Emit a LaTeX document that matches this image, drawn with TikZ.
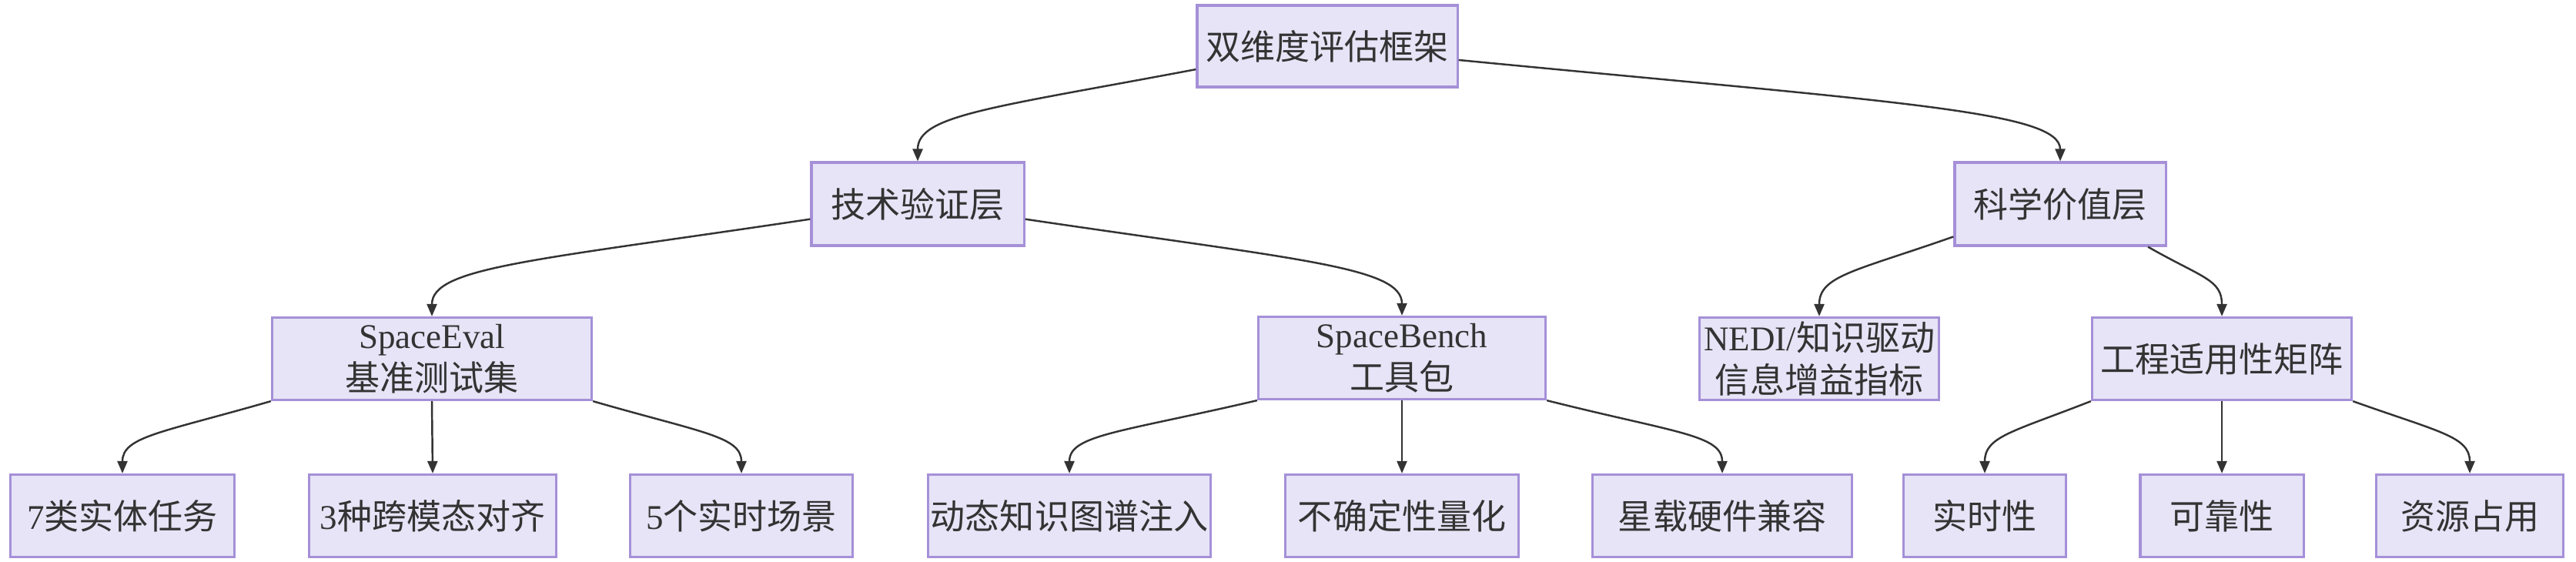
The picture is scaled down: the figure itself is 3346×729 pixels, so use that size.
\documentclass[tikz,border=0pt]{standalone}
\usepackage{fontspec}
\setmainfont{Liberation Serif}
\newfontfamily\zhfont{Noto Sans CJK SC}
\newcommand{\zh}[1]{{\zhfont #1}}
\usetikzlibrary{arrows.meta}
\definecolor{boxfill}{HTML}{E6E4F6}
\definecolor{boxline}{HTML}{A590D8}
\definecolor{edgeline}{HTML}{333333}
\begin{document}
\begin{tikzpicture}[x=0.01cm,y=-0.01cm,
    box/.style={draw=boxline, fill=boxfill, line width=0.9pt,
      inner sep=0pt, align=center, minimum height=1.07cm,
      text=edgeline, font=\fontsize{12.8}{15.6}\selectfont},
    edge/.style={draw=edgeline, line width=0.7pt,
      -{Triangle[length=0.16cm,width=0.13cm]}}]
  \useasboundingbox (0,0) rectangle (3346,729);
  % levels
  \node[box,minimum width=3.38cm,minimum height=1.06cm] (root) at (1724,60) {\zh{双维度评估框架}};
  \node[box,minimum width=2.76cm,minimum height=1.08cm] (tech) at (1192,265) {\zh{技术验证层}};
  \node[box,minimum width=2.74cm,minimum height=1.08cm] (sci) at (2676,265) {\zh{科学价值层}};
  \node[box,minimum width=4.15cm] (eval) at (561,466) {SpaceEval\\\zh{基准测试集}};
  \node[box,minimum width=3.73cm] (bench) at (1821,465) {SpaceBench\\\zh{工具包}};
  \node[box,minimum width=3.11cm] (nedi) at (2363,466) {NEDI/\zh{知识驱动}\\\zh{信息增益指标}};
  \node[box,minimum width=3.37cm] (matrix) at (2886,466) {\zh{工程适用性矩阵}};
  \node[box,minimum width=2.91cm] (task) at (159,670) {7\zh{类实体任务}};
  \node[box,minimum width=3.20cm] (align) at (562,670) {3\zh{种跨模态对齐}};
  \node[box,minimum width=2.89cm] (scene) at (963,670) {5\zh{个实时场景}};
  \node[box,minimum width=3.66cm] (inject) at (1389,670) {\zh{动态知识图谱注入}};
  \node[box,minimum width=3.03cm] (uncert) at (1821,670) {\zh{不确定性量化}};
  \node[box,minimum width=3.37cm] (hw) at (2237,670) {\zh{星载硬件兼容}};
  \node[box,minimum width=2.11cm] (rt) at (2578,670) {\zh{实时性}};
  \node[box,minimum width=2.12cm] (rel) at (2886,670) {\zh{可靠性}};
  \node[box,minimum width=2.43cm] (res) at (3208,670) {\zh{资源占用}};
  % edges
  \draw[edge] (root.190) .. controls +(-265,50) and +(0,-60) .. (tech.north);
  \draw[edge] (root.354) .. controls +(570,55) and +(0,-65) .. (sci.north);
  \draw[edge] (tech.188) .. controls +(-360,54) and +(0,-64) .. (eval.north);
  \draw[edge] (tech.352) .. controls +(358,53) and +(0,-63) .. (bench.north);
  \draw[edge] (sci.197) .. controls +(-128,45) and +(0,-53) .. (nedi.north);
  \draw[edge] (sci.334) .. controls +(70,40) and +(0,-48) .. (matrix.north);
  \draw[edge] (eval.south west) .. controls +(-142,41) and +(0,-48) .. (task.north);
  \draw[edge] (eval.south) -- (align.north);
  \draw[edge] (eval.south east) .. controls +(142,41) and +(0,-48) .. (scene.north);
  \draw[edge] (bench.south west) .. controls +(-180,42) and +(0,-50) .. (inject.north);
  \draw[edge] (bench.south) -- (uncert.north);
  \draw[edge] (bench.south east) .. controls +(167,42) and +(0,-50) .. (hw.north);
  \draw[edge] (matrix.south west) .. controls +(-102,40) and +(0,-48) .. (rt.north);
  \draw[edge] (matrix.south) -- (rel.north);
  \draw[edge] (matrix.south east) .. controls +(112,40) and +(0,-48) .. (res.north);
\end{tikzpicture}
\end{document}
